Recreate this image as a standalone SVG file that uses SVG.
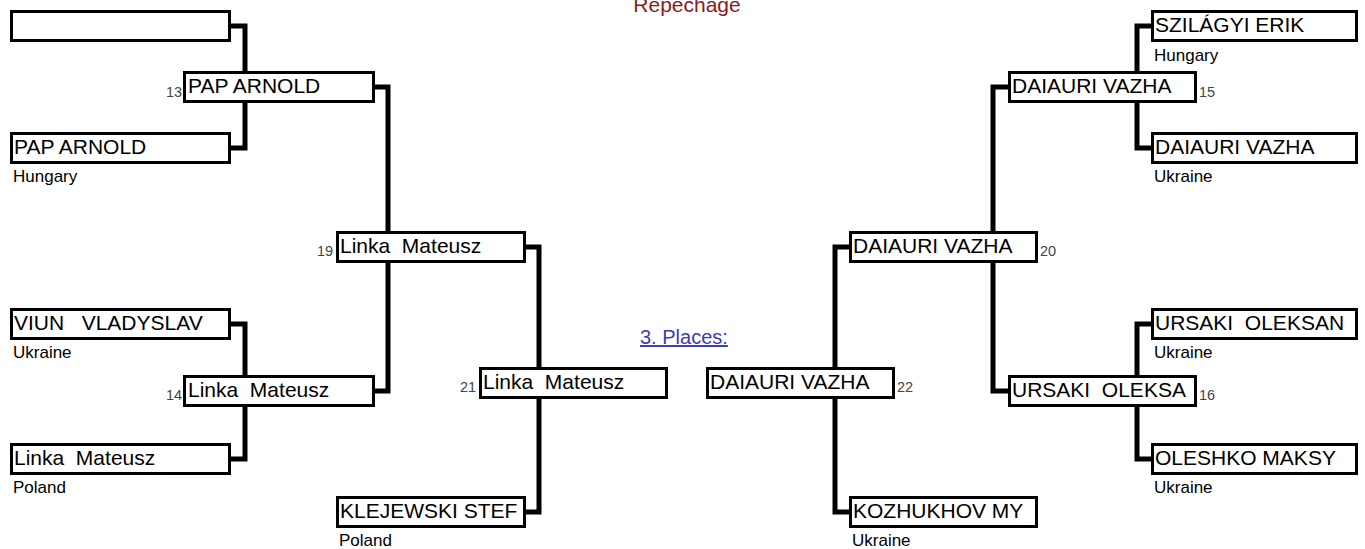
<svg xmlns="http://www.w3.org/2000/svg" width="1365" height="549" viewBox="0 0 1365 549">
<style>
.box{fill:#fff;stroke:#000;stroke-width:3}
.nm{font-family:"Liberation Sans",Arial,sans-serif;font-size:21px;fill:#000;white-space:pre}
.ct{font-family:"Liberation Sans",Arial,sans-serif;font-size:17px;fill:#000}
.no{font-family:"Liberation Sans",Arial,sans-serif;font-size:14.5px;fill:#444}
.con{fill:none;stroke:#000;stroke-width:5;stroke-linejoin:miter}
</style>
<rect width="1365" height="549" fill="#fff"/>
<text x="687" y="12" text-anchor="middle" font-family="Liberation Sans, Arial, sans-serif" font-size="21" fill="#8b1a1a">Repechage</text>
<text x="640" y="344" font-family="Liberation Sans, Arial, sans-serif" font-size="20" fill="#3c3cb4" text-decoration="underline">3. Places:</text>
<g id="connectors">
<path class="con" d="M231,26 H245 V148 H231"/>
<path class="con" d="M375,87 H388 V391 H375"/>
<path class="con" d="M231,324 H245 V459 H231"/>
<path class="con" d="M526,247 H539 V512 H526"/>
<path class="con" d="M1151,26 H1137 V148 H1151"/>
<path class="con" d="M1008,87 H993 V391 H1008"/>
<path class="con" d="M1151,324 H1137 V459 H1151"/>
<path class="con" d="M849,247 H835 V512 H849"/>
</g>
<g id="a1"><rect class="box" x="11.5" y="11.5" width="218" height="29"/></g>
<g id="a2"><rect class="box" x="11.5" y="133.5" width="218" height="29"/><text class="nm" x="14" y="154">PAP ARNOLD</text><text class="ct" x="13" y="182">Hungary</text></g>
<g id="a3"><rect class="box" x="11.5" y="309.5" width="218" height="29"/><text class="nm" x="14" y="330">VIUN   VLADYSLAV</text><text class="ct" x="13" y="358">Ukraine</text></g>
<g id="a4"><rect class="box" x="11.5" y="444.5" width="218" height="29"/><text class="nm" x="14" y="465">Linka  Mateusz</text><text class="ct" x="13" y="493">Poland</text></g>
<g id="b13"><rect class="box" x="184.5" y="72.5" width="189" height="29"/><text class="nm" x="188" y="93">PAP ARNOLD</text><text class="no" x="166" y="97">13</text></g>
<g id="b14"><rect class="box" x="184.5" y="376.5" width="189" height="29"/><text class="nm" x="188" y="397">Linka  Mateusz</text><text class="no" x="166" y="400">14</text></g>
<g id="b19"><rect class="box" x="337.5" y="232.5" width="187" height="29"/><text class="nm" x="340" y="253">Linka  Mateusz</text><text class="no" x="317" y="256">19</text></g>
<g id="b21"><rect class="box" x="480.5" y="368.5" width="186" height="29"/><text class="nm" x="483" y="389">Linka  Mateusz</text><text class="no" x="460" y="392">21</text></g>
<g id="klej"><rect class="box" x="337.5" y="497.5" width="187" height="29"/><text class="nm" x="340" y="518">KLEJEWSKI STEF</text><text class="ct" x="339" y="546">Poland</text></g>
<g id="b22"><rect class="box" x="707.5" y="368.5" width="186" height="29"/><text class="nm" x="710" y="389">DAIAURI VAZHA</text><text class="no" x="897" y="392">22</text></g>
<g id="b20"><rect class="box" x="850.5" y="232.5" width="186" height="29"/><text class="nm" x="853" y="253">DAIAURI VAZHA</text><text class="no" x="1040" y="256">20</text></g>
<g id="koz"><rect class="box" x="850.5" y="497.5" width="186" height="29"/><text class="nm" x="853" y="518">KOZHUKHOV MY</text><text class="ct" x="852" y="546">Ukraine</text></g>
<g id="b15"><rect class="box" x="1009.5" y="72.5" width="186" height="29"/><text class="nm" x="1012" y="93">DAIAURI VAZHA</text><text class="no" x="1199" y="97">15</text></g>
<g id="b16"><rect class="box" x="1009.5" y="376.5" width="186" height="29"/><text class="nm" x="1012" y="397">URSAKI  OLEKSA</text><text class="no" x="1199" y="400">16</text></g>
<g id="sz"><rect class="box" x="1152.5" y="11.5" width="204" height="29"/><text class="nm" x="1155" y="32">SZILÁGYI ERIK</text><text class="ct" x="1154" y="61">Hungary</text></g>
<g id="dai"><rect class="box" x="1152.5" y="133.5" width="204" height="29"/><text class="nm" x="1155" y="154">DAIAURI VAZHA</text><text class="ct" x="1154" y="182">Ukraine</text></g>
<g id="urs"><rect class="box" x="1152.5" y="309.5" width="204" height="29"/><text class="nm" x="1155" y="330">URSAKI  OLEKSAN</text><text class="ct" x="1154" y="358">Ukraine</text></g>
<g id="ole"><rect class="box" x="1152.5" y="444.5" width="204" height="29"/><text class="nm" x="1155" y="465">OLESHKO MAKSY</text><text class="ct" x="1154" y="493">Ukraine</text></g>
</svg>
